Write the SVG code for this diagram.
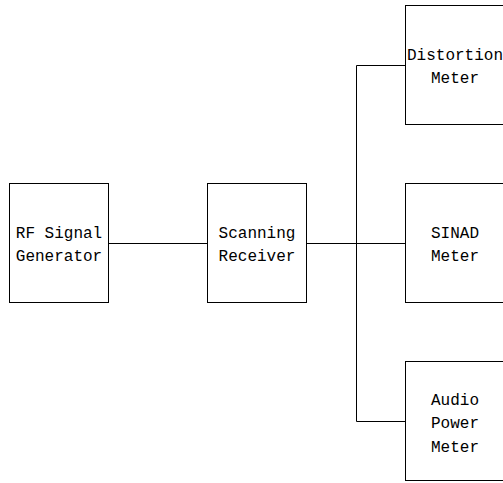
<svg xmlns="http://www.w3.org/2000/svg" width="503" height="483" viewBox="0 0 503 483">
<style>
.box{fill:#fff;stroke:#000;stroke-width:1}
.lbl{font-family:"Liberation Mono","Courier New",monospace;font-size:16px;fill:#000;text-anchor:middle}
.wire{fill:none;stroke:#000;stroke-width:1}
</style>
<rect width="503" height="483" fill="#fff"/>
<g id="connectors">
<path class="wire" d="M108.5 243.5H207.5"/>
<path class="wire" d="M306.5 243.5H405.5"/>
<path class="wire" d="M405.5 65.5H356.5V421.5H405.5"/>
</g>
<g id="rf-signal-generator">
<rect class="box" x="9.5" y="183.5" width="99" height="119"/>
<text class="lbl" x="59" y="237.5">RF Signal</text>
<text class="lbl" x="59" y="260.5">Generator</text>
</g>
<g id="scanning-receiver">
<rect class="box" x="207.5" y="183.5" width="99" height="119"/>
<text class="lbl" x="257" y="237.5">Scanning</text>
<text class="lbl" x="257" y="260.5">Receiver</text>
</g>
<g id="distortion-meter">
<rect class="box" x="405.5" y="5.5" width="99" height="119"/>
<text class="lbl" x="455" y="59.5">Distortion</text>
<text class="lbl" x="455" y="82.5">Meter</text>
</g>
<g id="sinad-meter">
<rect class="box" x="405.5" y="183.5" width="99" height="119"/>
<text class="lbl" x="455" y="237.5">SINAD</text>
<text class="lbl" x="455" y="260.5">Meter</text>
</g>
<g id="audio-power-meter">
<rect class="box" x="405.5" y="361.5" width="99" height="119"/>
<text class="lbl" x="455" y="404.5">Audio</text>
<text class="lbl" x="455" y="428">Power</text>
<text class="lbl" x="455" y="451.5">Meter</text>
</g>
</svg>
